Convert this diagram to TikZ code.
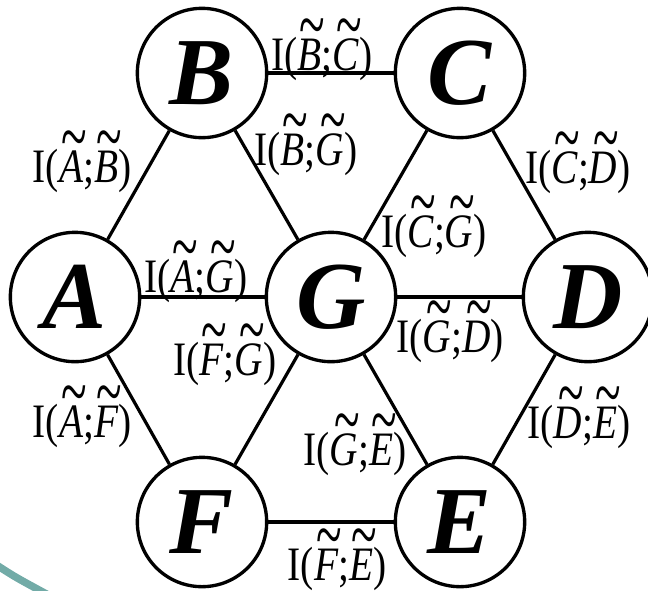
\documentclass[tikz,border=0pt]{standalone}
\usepackage{fontspec}
\setmainfont{Liberation Serif}
\definecolor{arcteal}{RGB}{114,171,167}
\newcommand{\wtl}[1]{\ooalign{\itshape #1\cr\hidewidth\kern0.14em\raisebox{0.40em}{\scalebox{1.2}[1.6]{\char"7E}}\hidewidth\cr}}
\newcommand{\milbl}[2]{I(\wtl{#1};\wtl{#2})}
\begin{document}
\begin{tikzpicture}[x=0.75pt,y=-0.75pt,
  vert/.style={circle,draw,line width=2.5pt,minimum size=97pt,inner sep=0pt,
    font=\fontsize{72}{72}\selectfont\bfseries\itshape},
  conn/.style={line width=2.4pt},
  lab/.style={font=\fontsize{36}{40}\selectfont,xscale=0.82,anchor=base,inner sep=0pt}]
\useasboundingbox (0,0) rectangle (648,590);
\draw[arcteal,line width=5.6pt] (-5,564) .. controls (15,577) .. (52,597);
\node[vert] (B) at (202,73) {B};
\node[vert] (C) at (460,73) {C};
\node[vert] (A) at (75,297) {A};
\node[vert] (G) at (331,297) {G};
\node[vert] (D) at (588,297) {D};
\node[vert] (F) at (202,522) {F};
\node[vert] (E) at (460,522) {E};
\draw[conn] (B) -- (C);
\draw[conn] (A) -- (B);
\draw[conn] (A) -- (G);
\draw[conn] (A) -- (F);
\draw[conn] (B) -- (G);
\draw[conn] (C) -- (G);
\draw[conn] (C) -- (D);
\draw[conn] (G) -- (D);
\draw[conn] (G) -- (E);
\draw[conn] (G) -- (F);
\draw[conn] (F) -- (E);
\draw[conn] (D) -- (E);
\node[lab] (lBC) at (322,70) {\milbl{B}{C}};
\node[lab] (lBG) at (306,165) {\milbl{B}{G}};
\node[lab] (lAB) at (82,182) {\milbl{A}{B}};
\node[lab] (lCD) at (578,183) {\milbl{C}{D}};
\node[lab] (lCG) at (434,247) {\milbl{C}{G}};
\node[lab] (lAG) at (196,292) {\milbl{A}{G}};
\node[lab] (lFG) at (225,375) {\milbl{F}{G}};
\node[lab] (lGD) at (450,352) {\milbl{G}{D}};
\node[lab] (lAF) at (82,437) {\milbl{A}{F}};
\node[lab] (lDE) at (579,438) {\milbl{D}{E}};
\node[lab] (lGE) at (355,465) {\milbl{G}{E}};
\node[lab] (lFE) at (337,580) {\milbl{F}{E}};
\end{tikzpicture}
\end{document}
